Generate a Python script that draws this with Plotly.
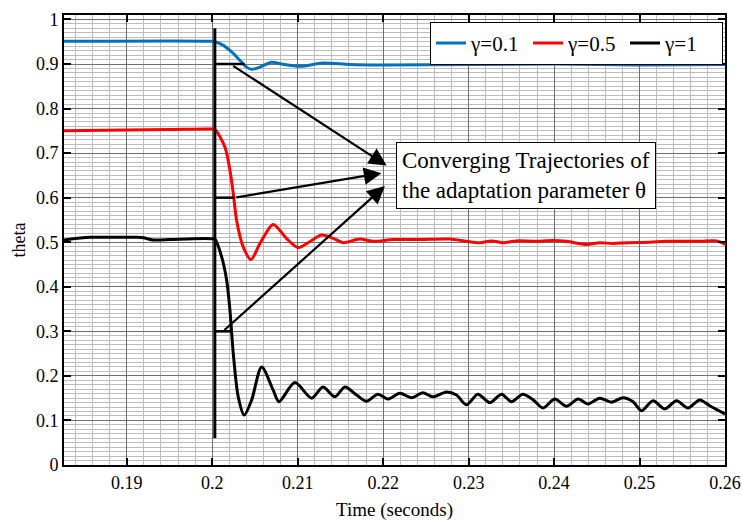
import plotly.graph_objects as go

# Adaptation parameter theta for three adaptation gains
t_g01 = [0.18265, 0.2, 0.20032, 0.2011, 0.20227, 0.20324, 0.20402, 0.20461, 0.20558,
         0.20695, 0.20812, 0.21026, 0.21295, 0.2161, 0.22, 0.23, 0.24, 0.25, 0.26]
theta_g01 = [0.951, 0.951, 0.950, 0.944, 0.927, 0.908, 0.893, 0.888, 0.893,
             0.904, 0.900, 0.895, 0.902, 0.899, 0.898, 0.899, 0.900, 0.898, 0.899]

t_g05 = [0.18265, 0.19, 0.195, 0.2, 0.20032, 0.20149, 0.20207, 0.20246, 0.20285,
         0.20363, 0.20453, 0.20558, 0.20713, 0.2087, 0.21006, 0.21163, 0.2128,
         0.21435, 0.21532, 0.21727, 0.21883, 0.22117, 0.22429, 0.2278, 0.22975,
         0.23131, 0.23268, 0.23404, 0.2356, 0.23774, 0.23988, 0.24145, 0.24379,
         0.24534, 0.2469, 0.24847, 0.25119, 0.25315, 0.25705, 0.25899, 0.26]
theta_g05 = [0.750, 0.752, 0.753, 0.754, 0.753, 0.713, 0.661, 0.609, 0.549,
             0.489, 0.461, 0.497, 0.540, 0.508, 0.488, 0.504, 0.516,
             0.507, 0.499, 0.507, 0.502, 0.506, 0.506, 0.507, 0.502,
             0.499, 0.503, 0.499, 0.503, 0.502, 0.504, 0.502, 0.495,
             0.499, 0.497, 0.499, 0.500, 0.502, 0.502, 0.503, 0.495]

t_g1 = [0.18265, 0.1857, 0.18807, 0.19116, 0.19193, 0.1931, 0.19506, 0.19778, 0.19993,
        0.20032, 0.2011, 0.20168, 0.20207, 0.20246, 0.20304, 0.20374, 0.20461,
        0.20578, 0.20713, 0.2078, 0.20967, 0.21163, 0.21295, 0.21435, 0.21552,
        0.21689, 0.21806, 0.21938, 0.22055, 0.22195, 0.22332, 0.22464, 0.22581,
        0.22742, 0.22858, 0.22975, 0.23108, 0.23248, 0.23385, 0.23502, 0.23634,
        0.23751, 0.23871, 0.24008, 0.24145, 0.24281, 0.24398, 0.24534, 0.24671,
        0.24807, 0.24924, 0.25022, 0.25158, 0.25295, 0.25432, 0.25567, 0.25704,
        0.25821, 0.25977, 0.26]
theta_g1 = [0.505, 0.511, 0.511, 0.511, 0.510, 0.505, 0.506, 0.508, 0.508,
            0.507, 0.467, 0.415, 0.347, 0.250, 0.153, 0.112, 0.146,
            0.220, 0.168, 0.142, 0.185, 0.150, 0.175, 0.153, 0.175,
            0.157, 0.143, 0.159, 0.148, 0.161, 0.151, 0.162, 0.153,
            0.164, 0.157, 0.135, 0.159, 0.140, 0.159, 0.142, 0.159,
            0.147, 0.128, 0.148, 0.132, 0.148, 0.137, 0.150, 0.141,
            0.151, 0.142, 0.122, 0.144, 0.126, 0.144, 0.128, 0.146,
            0.133, 0.117, 0.115]

series_names = ["γ=0.1", "γ=0.5", "γ=1"]
series_colors = ["#0072BD", "#FF0000", "#000000"]

x_tick_vals = [0.19, 0.2, 0.21, 0.22, 0.23, 0.24, 0.25, 0.26]
x_tick_text = ["0.19", "0.2", "0.21", "0.22", "0.23", "0.24", "0.25", "0.26"]
y_tick_vals = [0, 0.1, 0.2, 0.3, 0.4, 0.5, 0.6, 0.7, 0.8, 0.9, 1]
y_tick_text = ["0", "0.1", "0.2", "0.3", "0.4", "0.5", "0.6", "0.7", "0.8", "0.9", "1"]

# switching instant and the theta levels marked at it
t_switch = 0.2003
switch_span = [0.06, 0.98]
marker_levels = [0.9, 0.6, 0.3]
marker_ends = [0.2038, 0.2026, 0.2023]
arrow_starts = [(0.20227, 0.898), (0.20265, 0.6), (0.20125, 0.3)]
arrow_tips = [(0.2204, 0.672), (0.2198, 0.655), (0.2202, 0.626)]

note_text = "Converging Trajectories of<br>the adaptation parameter θ"
note_pos = (0.23675, 0.649)

FONT = "Liberation Serif"

fig = go.Figure()
for t, th, name, col in zip([t_g01, t_g05, t_g1], [theta_g01, theta_g05, theta_g1],
                            series_names, series_colors):
    fig.add_trace(go.Scatter(x=t, y=th, mode="lines", name=name,
                             line=dict(color=col, width=3, shape="spline", smoothing=0.8)))

shapes = [dict(type="line", xref="x", yref="y", x0=t_switch, x1=t_switch,
               y0=switch_span[0], y1=switch_span[1], line=dict(color="black", width=3))]
for lvl, end in zip(marker_levels, marker_ends):
    shapes.append(dict(type="line", xref="x", yref="y", x0=t_switch, x1=end,
                       y0=lvl, y1=lvl, line=dict(color="black", width=2.5)))

annotations = []
for (sx, sy), (tx, ty) in zip(arrow_starts, arrow_tips):
    annotations.append(dict(x=tx, y=ty, ax=sx, ay=sy, xref="x", yref="y",
                            axref="x", ayref="y", text="", showarrow=True,
                            arrowhead=2, arrowsize=1.6, arrowwidth=2.2,
                            arrowcolor="black", standoff=0, startstandoff=0))
annotations.append(dict(x=note_pos[0], y=note_pos[1], xref="x", yref="y",
                        text=note_text, showarrow=False, align="left",
                        font=dict(family=FONT, size=23, color="black"),
                        bgcolor="white", bordercolor="black", borderwidth=1,
                        borderpad=5))

axis_common = dict(showline=True, linecolor="black", linewidth=2, mirror="ticks",
                   ticks="inside", ticklen=7, tickwidth=2, tickcolor="black",
                   showgrid=True, gridcolor="#6e6e6e", gridwidth=1, zeroline=False,
                   automargin=False,
                   tickfont=dict(family=FONT, size=18, color="black"))

fig.update_layout(
    width=742, height=521,
    margin=dict(l=64, r=17, t=15, b=56),
    paper_bgcolor="white", plot_bgcolor="white",
    font=dict(family=FONT, color="black"),
    xaxis=dict(range=[0.18265, 0.26], tickmode="array", tickvals=x_tick_vals,
               ticktext=x_tick_text,
               minor=dict(tickmode="linear", tick0=0, dtick=0.002, showgrid=True,
                          gridcolor="#bdbdbd", gridwidth=1, ticks=""),
               title=dict(text="Time (seconds)", font=dict(family=FONT, size=19),
                          standoff=12),
               **axis_common),
    yaxis=dict(range=[0, 1.01], tickmode="array", tickvals=y_tick_vals,
               ticktext=y_tick_text,
               minor=dict(tickmode="linear", tick0=0, dtick=0.01, showgrid=True,
                          gridcolor="#bdbdbd", gridwidth=1, ticks=""),
               title=dict(text="theta", font=dict(family=FONT, size=18), standoff=6),
               **axis_common),
    legend=dict(orientation="h", x=0.997, xanchor="right", y=0.985, yanchor="top",
                bgcolor="white", bordercolor="black", borderwidth=1,
                font=dict(family=FONT, size=21, color="black"),
                itemwidth=30, entrywidth=52, tracegroupgap=0),
    shapes=shapes,
    annotations=annotations,
)

fig.write_html("out.html")
